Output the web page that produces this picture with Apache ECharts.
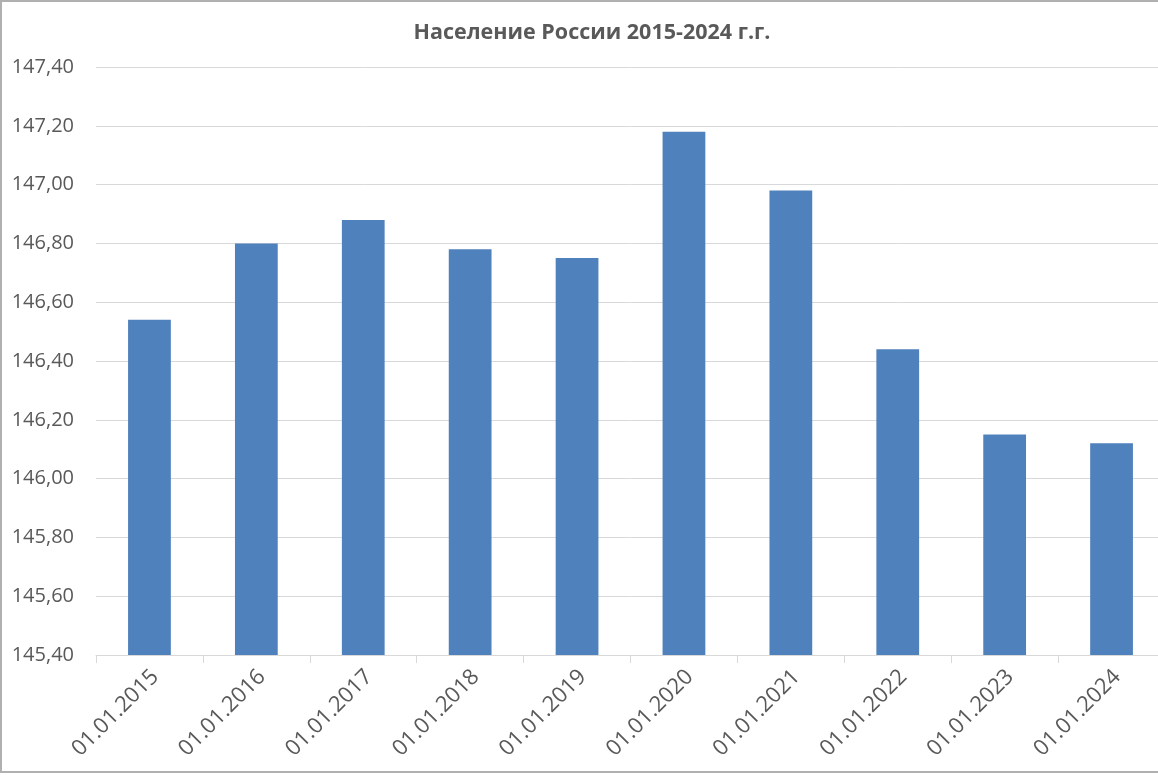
<!DOCTYPE html>
<html><head><meta charset="utf-8">
<script src="https://cdn.jsdelivr.net/npm/echarts@6/dist/echarts.min.js"></script>
<style>html,body{margin:0;padding:0;background:#fff;overflow:hidden}#c{width:1166px;height:775px}</style>
</head><body><div id="c"></div>
<script>
const titleText = 'Население России 2015-2024 г.г.';
const categories = ['01.01.2015','01.01.2016','01.01.2017','01.01.2018','01.01.2019','01.01.2020','01.01.2021','01.01.2022','01.01.2023','01.01.2024'];
const population = [146.54, 146.80, 146.88, 146.78, 146.75, 147.18, 146.98, 146.44, 146.15, 146.12];
const yMin = 145.4, yMax = 147.4, yStep = 0.2;

const chart = echarts.init(document.getElementById('c'));
chart.setOption({
  animation: false,
  backgroundColor: '#fff',
  title: {
    text: titleText, left: 587, top: 17, textAlign: 'center',
    textStyle: {fontFamily: 'Open Sans, Calibri, sans-serif', fontSize: 21.5, fontWeight: 'bold', color: '#595959'}
  },
  grid: {left: 96, right: 1, top: 67, height: 588, containLabel: false},
  xAxis: {
    type: 'category', data: categories,
    axisLine: {lineStyle: {color: '#d9d9d9', width: 1}},
    axisTick: {show: true, alignWithLabel: false, length: 8, lineStyle: {color: '#d9d9d9'}},
    axisLabel: {rotate: 45, color: '#595959', fontSize: 22, fontFamily: 'Open Sans, Calibri, sans-serif', margin: 24, padding: [0, -8, 0, 0], interval: 0}
  },
  yAxis: {
    type: 'value', min: yMin, max: yMax, interval: yStep,
    axisLine: {show: false}, axisTick: {show: false},
    splitLine: {lineStyle: {color: '#d9d9d9', width: 1}},
    axisLabel: {color: '#595959', fontSize: 20, fontFamily: 'Open Sans, Calibri, sans-serif', margin: 22,
      formatter: v => v.toFixed(2).replace('.', ',')}
  },
  series: [{
    type: 'bar', data: population, barWidth: '40%',
    itemStyle: {color: '#4f81bd'}
  }],
  graphic: [
    {type: 'rect', shape: {x: 1, y: 1, width: 1200, height: 771}, style: {fill: 'none', stroke: '#b0b0b0', lineWidth: 2}, z: 100}
  ]
});
</script></body></html>
